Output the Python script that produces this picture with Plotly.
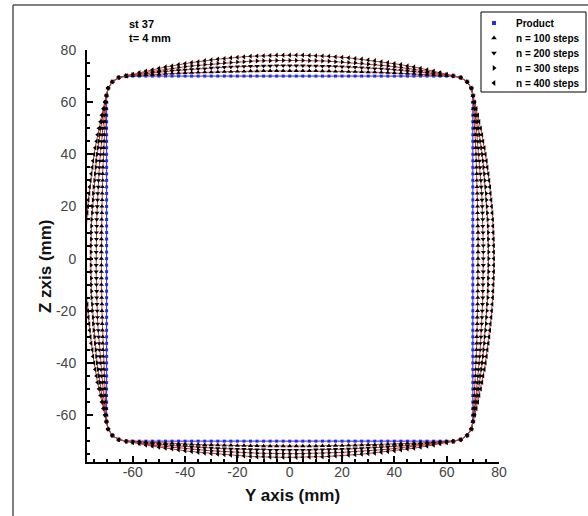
import plotly.graph_objects as go

# ---------------- data ----------------
# positions along each side of the section (mm), half profile from centre to corner
half_pos = [0, 2.5, 5, 7.5, 10, 12.5, 15, 17.5, 20, 22.5, 25, 27.5, 30, 32.5,
            35, 37.5, 40, 42.5, 45, 47.5, 50, 52.5, 55, 57.5, 60, 62.5]
# outward bulge (mm) of the top, left and right sides for each number of steps
bulge_n100 = [2.0, 2.0, 2.0, 2.0, 2.0, 1.9, 1.9, 1.8, 1.8, 1.7, 1.7, 1.6, 1.5,
              1.5, 1.4, 1.3, 1.2, 1.1, 1.0, 0.9, 0.7, 0.6, 0.5, 0.3, 0.2, 0.0]
bulge_n200 = [4.0, 4.0, 4.0, 3.9, 3.9, 3.8, 3.8, 3.7, 3.6, 3.5, 3.4, 3.2, 3.1,
              2.9, 2.8, 2.6, 2.4, 2.2, 2.0, 1.7, 1.5, 1.2, 0.9, 0.7, 0.4, 0.1]
bulge_n300 = [6.0, 6.0, 6.0, 5.9, 5.9, 5.8, 5.7, 5.5, 5.4, 5.2, 5.1, 4.9, 4.6,
              4.4, 4.1, 3.9, 3.6, 3.3, 2.9, 2.6, 2.2, 1.8, 1.4, 1.0, 0.6, 0.1]
bulge_n400 = [8.0, 8.0, 8.0, 7.9, 7.8, 7.7, 7.6, 7.4, 7.2, 7.0, 6.7, 6.5, 6.2,
              5.9, 5.5, 5.2, 4.8, 4.4, 3.9, 3.5, 3.0, 2.4, 1.9, 1.3, 0.7, 0.1]
# outward bulge (mm) of the bottom side
bottom_n100 = [1.9, 1.9, 1.9, 1.9, 1.9, 1.8, 1.8, 1.7, 1.7, 1.6, 1.6, 1.5, 1.4,
               1.4, 1.3, 1.2, 1.1, 1.0, 0.9, 0.8, 0.7, 0.6, 0.4, 0.3, 0.2, 0.0]
bottom_n200 = [3.4, 3.4, 3.4, 3.4, 3.3, 3.3, 3.2, 3.1, 3.1, 3.0, 2.9, 2.8, 2.6,
               2.5, 2.4, 2.2, 2.0, 1.9, 1.7, 1.5, 1.3, 1.0, 0.8, 0.6, 0.3, 0.1]
bottom_n300 = [4.8, 4.8, 4.8, 4.7, 4.7, 4.6, 4.5, 4.4, 4.3, 4.2, 4.0, 3.9, 3.7,
               3.5, 3.3, 3.1, 2.9, 2.6, 2.4, 2.1, 1.8, 1.5, 1.1, 0.8, 0.4, 0.1]
bottom_n400 = [6.2, 6.2, 6.2, 6.1, 6.0, 6.0, 5.9, 5.7, 5.6, 5.4, 5.2, 5.0, 4.8,
               4.6, 4.3, 4.0, 3.7, 3.4, 3.0, 2.7, 2.3, 1.9, 1.5, 1.0, 0.6, 0.1]
bulge_product = [0.0] * len(half_pos)

half_width = 70.0        # product half width (mm)
corner_centre = 62.5     # centre of the rounded product corners (mm)
corner_arc = [(2.87, 6.93), (5.30, 5.30), (6.93, 2.87)]   # arc offsets (mm)

series_names = ["Product", "n = 100 steps", "n = 200 steps", "n = 300 steps", "n = 400 steps"]
series_bulges = [bulge_product, bulge_n100, bulge_n200, bulge_n300, bulge_n400]
series_bottom = [bulge_product, bottom_n100, bottom_n200, bottom_n300, bottom_n400]
series_symbols = ["square", "triangle-up", "triangle-down", "triangle-right", "triangle-left"]

x_ticks = [-60, -40, -20, 0, 20, 40, 60, 80]
y_ticks = [-60, -40, -20, 0, 20, 40, 60, 80]


def mirror(half):
    return list(reversed(half[1:])) + half


def outline(bulge, bottom):
    s = [-p for p in reversed(half_pos[1:])] + half_pos
    b = mirror(bulge)
    bb = mirror(bottom)
    c, h = corner_centre, half_width
    xs, ys = [], []
    for si, bi in zip(s, b):                       # top side, left -> right
        xs.append(si); ys.append(h + bi)
    for dx, dy in corner_arc:
        xs.append(c + dx); ys.append(c + dy)
    for si, bi in zip(reversed(s), reversed(b)):   # right side, top -> bottom
        xs.append(h + bi); ys.append(si)
    for dx, dy in reversed(corner_arc):
        xs.append(c + dx); ys.append(-c - dy)
    for si, bi in zip(reversed(s), reversed(bb)):  # bottom side, right -> left
        xs.append(si); ys.append(-h - bi)
    for dx, dy in corner_arc:
        xs.append(-c - dx); ys.append(-c - dy)
    for si, bi in zip(s, b):                       # left side, bottom -> top
        xs.append(-h - bi); ys.append(si)
    for dx, dy in reversed(corner_arc):
        xs.append(-c - dx); ys.append(c + dy)
    xs.append(xs[0]); ys.append(ys[0])
    return xs, ys


W, H = 588, 516
font_main = "Arial, Liberation Sans, sans-serif"
prod_col = "#2a2ae6"
line_red = "#c23a3a"

# plot-area box in pixels
plot_l, plot_r, plot_t, plot_b = 87, 499, 50, 462

fig = go.Figure()

for i, (name, bulge, bottom, sym) in enumerate(zip(series_names, series_bulges,
                                                    series_bottom, series_symbols)):
    xs, ys = outline(bulge, bottom)
    is_prod = i == 0
    fig.add_trace(go.Scatter(x=xs, y=ys, mode="lines",
                             line=dict(color=prod_col if is_prod else line_red, width=1),
                             showlegend=False, hoverinfo="skip", cliponaxis=False))
    fig.add_trace(go.Scatter(x=xs, y=ys, mode="markers", name=name, showlegend=False,
                             marker=dict(symbol=sym, size=3 if is_prod else 4.5,
                                         color=prod_col if is_prod else "#000000",
                                         line=dict(width=0)),
                             cliponaxis=False))

# ---------------- hand-built legend on a full-page pixel layer ----------------
legend_box = dict(x0=481, x1=586, y0=12, y1=92)
legend_rows = [23, 38, 53, 68, 83]
legend_marker_x = 494
legend_text_x = 514

for i, (name, sym) in enumerate(zip(series_names, series_symbols)):
    is_prod = i == 0
    fig.add_trace(go.Scatter(x=[legend_marker_x], y=[legend_rows[i]], mode="markers",
                             xaxis="x2", yaxis="y2", showlegend=False, hoverinfo="skip",
                             marker=dict(symbol=sym, size=4 if is_prod else 5,
                                         color=prod_col if is_prod else "#000000",
                                         line=dict(width=0)),
                             cliponaxis=False))

annotations = [
    dict(text="Y axis (mm)", xref="x2", yref="y2", x=292, y=495,
         xanchor="center", yanchor="middle", showarrow=False,
         font=dict(size=17, family=font_main, color="#111111", weight="bold")),
    dict(text="Z zxis (mm)", xref="x2", yref="y2", x=45, y=266,
         xanchor="center", yanchor="middle", showarrow=False, textangle=-90,
         font=dict(size=17, family=font_main, color="#111111", weight="bold")),
    dict(text="st 37<br>t= 4 mm", xref="x2", yref="y2", x=127, y=16,
         xanchor="left", yanchor="top", showarrow=False, align="left",
         font=dict(size=11, family=font_main, color="#000000", weight="bold")),
]
for name, row in zip(series_names, legend_rows):
    annotations.append(dict(text=name, xref="x2", yref="y2", x=legend_text_x, y=row,
                            xanchor="left", yanchor="middle", showarrow=False,
                            font=dict(size=10, family=font_main, color="#000000",
                                      weight="bold")))

axis_common = dict(ticks="inside", ticklen=6, tickwidth=2, tickcolor="#000000",
                   showline=True, linecolor="#000000", linewidth=2,
                   showgrid=False, zeroline=False, mirror=False, automargin=False,
                   tickfont=dict(size=14, color="#444444", family=font_main),
                   minor=dict(dtick=5, ticks="inside", ticklen=3, tickwidth=1.5,
                              tickcolor="#000000", showgrid=False))

fig.update_layout(
    template="none",
    width=W, height=H, autosize=False,
    margin=dict(l=0, r=0, t=0, b=0, pad=0),
    paper_bgcolor="white", plot_bgcolor="rgba(0,0,0,0)",
    font=dict(family=font_main, color="#000000"),
    showlegend=False,
    xaxis=dict(range=[-77.5, 80], domain=[plot_l / W, plot_r / W], anchor="y",
               tickvals=x_ticks, ticktext=[str(v) for v in x_ticks],
               ticklabelstandoff=-4, **axis_common),
    yaxis=dict(range=[-78, 80], domain=[1 - plot_b / H, 1 - plot_t / H], anchor="x",
               tickvals=y_ticks, ticktext=[str(v) for v in y_ticks],
               ticklabelstandoff=6, **axis_common),
    xaxis2=dict(range=[0, W], domain=[0, 1], anchor="y2", visible=False,
                fixedrange=True, automargin=False),
    yaxis2=dict(range=[H, 0], domain=[0, 1], anchor="x2", visible=False,
                fixedrange=True, automargin=False),
    annotations=annotations,
    shapes=[
        dict(type="line", xref="x2", yref="y2", x0=13, x1=W, y0=5, y1=5,
             line=dict(color="#555555", width=1.5)),
        dict(type="line", xref="x2", yref="y2", x0=13, x1=13, y0=5, y1=H,
             line=dict(color="#555555", width=1.5)),
        dict(type="rect", xref="x2", yref="y2", x0=legend_box["x0"], x1=legend_box["x1"],
             y0=legend_box["y0"], y1=legend_box["y1"], fillcolor="rgba(0,0,0,0)",
             line=dict(color="#000000", width=1), layer="below"),
    ],
)

fig.write_html("out.html")
